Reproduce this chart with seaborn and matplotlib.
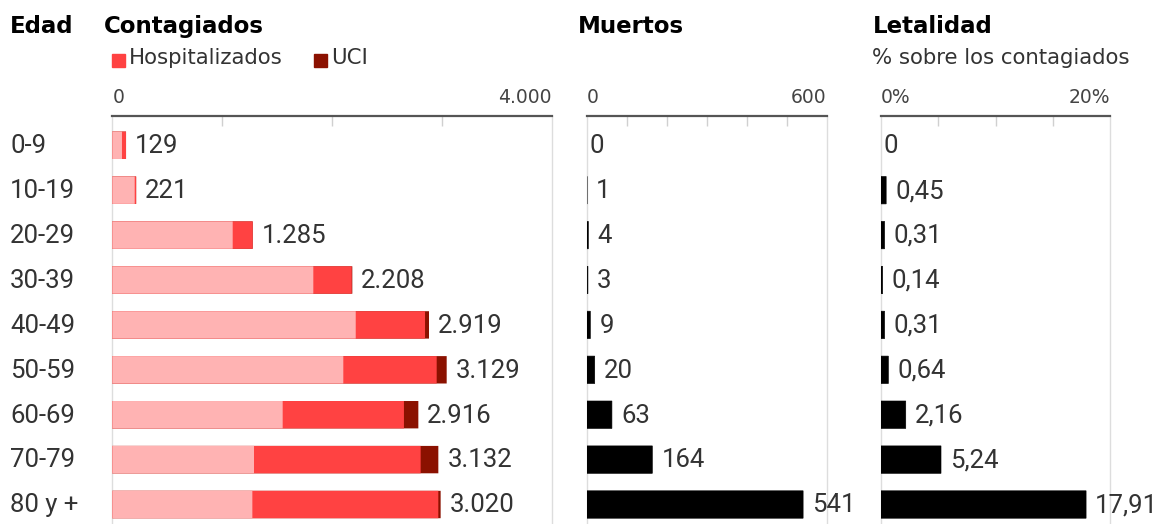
import matplotlib
matplotlib.use("Agg")
import matplotlib.pyplot as plt
from matplotlib.patches import Rectangle
from matplotlib.ticker import FixedLocator
import seaborn as sns
import pandas as pd

# ---------------- data ----------------
edad = ['0-9', '10-19', '20-29', '30-39', '40-49', '50-59', '60-69', '70-79', '80 y +']
no_hosp = [88, 204, 1096, 1830, 2216, 2103, 1551, 1290, 1275]     # light pink segment
hospitalizados = [37, 13, 182, 350, 631, 850, 1104, 1517, 1693]   # red segment
uci = [0, 0, 0, 5, 36, 91, 131, 161, 21]                           # dark red segment
contagiados_total = [129, 221, 1285, 2208, 2919, 3129, 2916, 3132, 3020]
muertos = [0, 1, 4, 3, 9, 20, 63, 164, 541]
letalidad = [0, 0.45, 0.31, 0.14, 0.31, 0.64, 2.16, 5.24, 17.91]

c_ticks = [0, 4000]
c_ticklabels = ['0', '4.000']
m_ticks = [0, 600]
m_ticklabels = ['0', '600']
l_ticks = [0, 20]
l_ticklabels = ['0%', '20%']

# ---------------- style ----------------
sns.set_theme(style="white")
plt.rcParams['font.family'] = ['DejaVu Sans']

PINK = '#ffb3b3'
RED = '#ff4242'
DARK = '#8b1100'
TXT = '#333333'
NUM_FONT = ['Roboto', 'DejaVu Sans']
NS = 18.5

W, H = 1160, 524
fig = plt.figure(figsize=(W / 100, H / 100), dpi=100)

def fx(px):
    return px / W

def fy(py):
    return 1 - py / H

top = fy(115.7)
ax1 = fig.add_axes([fx(112.3), 0, fx(439.4), top])
ax2 = fig.add_axes([fx(586.7), 0, fx(240), top])
ax3 = fig.add_axes([fx(881), 0, fx(229), top])

df = pd.DataFrame({
    'edad': edad,
    'no_hosp': no_hosp,
    'hosp': hospitalizados,
    'uci': uci,
    'total': contagiados_total,
    'muertos': muertos,
    'letalidad': letalidad,
})
df['s1'] = df['no_hosp']
df['s2'] = df['no_hosp'] + df['hosp']
df['s3'] = df['s2'] + df['uci']

BW = 0.61
common = dict(y='edad', orient='h', width=BW, saturation=1, linewidth=0, snap=False)
# stacked: draw cumulative sums from the largest to the smallest
sns.barplot(data=df, x='s3', color=DARK, ax=ax1, **common)
sns.barplot(data=df, x='s2', color=RED, ax=ax1, **common)
sns.barplot(data=df, x='s1', color=PINK, ax=ax1, **common)
sns.barplot(data=df, x='muertos', color='black', ax=ax2, **common)
sns.barplot(data=df, x='letalidad', color='black', ax=ax3, **common)

# make hairline-thin (non-zero) black bars visible, as in the original
for ax in (ax2, ax3):
    for p in ax.patches:
        if p.get_width() > 0:
            p.set_edgecolor('black')
            p.set_linewidth(0.45)
            p.set_zorder(3)

specs = [
    (ax1, (0, 4000), c_ticks, c_ticklabels, [1000, 2000, 3000]),
    (ax2, (0, 600), m_ticks, m_ticklabels, [100, 200, 300, 400, 500]),
    (ax3, (0, 20), l_ticks, l_ticklabels, [5, 10, 15]),
]
for ax, xlim, ticks, labels, minor in specs:
    ax.set_xlim(*xlim)
    ax.set_ylim(8.434, -0.659)
    ax.set_xlabel('')
    ax.set_ylabel('')
    ax.set_yticks([])
    ax.xaxis.tick_top()
    ax.set_xticks(ticks)
    ax.set_xticklabels(labels)
    ax.xaxis.set_minor_locator(FixedLocator(minor))
    ax.tick_params(axis='x', which='major', length=0, pad=6.5, labelsize=13.5,
                   labelcolor='#444444')
    ax.tick_params(axis='x', which='minor', direction='in', length=7, width=1,
                   color='#d0d0d0', top=True, bottom=False)
    tl = ax.get_xticklabels()
    tl[0].set_ha('left')
    tl[-1].set_ha('right')
    for side in ['left', 'right']:
        ax.spines[side].set_visible(True)
        ax.spines[side].set_color('#dddddd')
        ax.spines[side].set_linewidth(1)
        ax.spines[side].set_zorder(0.5)
    ax.spines['bottom'].set_visible(False)
    ax.spines['top'].set_visible(True)
    ax.spines['top'].set_color('#555555')
    ax.spines['top'].set_linewidth(1.6)
    ax.patch.set_alpha(0)

# value labels
def label(ax, xs, texts):
    for i, (x, t) in enumerate(zip(xs, texts)):
        off = 6.5 if x > 0 else 2.0
        ax.annotate(t, xy=(x, i), xytext=(off, 1.2), textcoords='offset points',
                    ha='left', va='center_baseline', fontsize=NS,
                    color=TXT, family=NUM_FONT, annotation_clip=False)

def fmt_thousands(v):
    return f"{v:,}".replace(',', '.')

label(ax1, df['s3'], [fmt_thousands(v) for v in contagiados_total])
label(ax2, muertos, [str(v) for v in muertos])
label(ax3, letalidad, ['0' if v == 0 else f"{v:.2f}".replace('.', ',') for v in letalidad])

# row labels
for i, e in enumerate(edad):
    ax1.annotate(e, xy=(fx(10), i), xycoords=('figure fraction', 'data'),
                 xytext=(0, 1.2), textcoords='offset points',
                 ha='left', va='center_baseline', fontsize=NS, color=TXT,
                 family=NUM_FONT, annotation_clip=False)

# titles
TS = 16.5
fig.text(fx(9.5), fy(33), 'Edad', fontsize=TS, fontweight='bold', color='black', va='baseline')
fig.text(fx(104), fy(33), 'Contagiados', fontsize=TS, fontweight='bold', color='black', va='baseline')
fig.text(fx(578), fy(33), 'Muertos', fontsize=TS, fontweight='bold', color='black', va='baseline')
fig.text(fx(873), fy(33), 'Letalidad', fontsize=TS, fontweight='bold', color='black', va='baseline')

# legend / subtitle
SS = 15.3
fig.patches.append(Rectangle((fx(112), fy(66.5)), fx(13), 12 / H, transform=fig.transFigure,
                             color=RED, zorder=5))
fig.text(fx(129), fy(64.3), 'Hospitalizados', fontsize=SS, color=TXT, va='baseline')
fig.patches.append(Rectangle((fx(314), fy(66.5)), fx(13), 12 / H, transform=fig.transFigure,
                             color=DARK, zorder=5))
fig.text(fx(331), fy(64.3), 'UCI', fontsize=SS, color=TXT, va='baseline')
fig.text(fx(872), fy(64.3), '% sobre los contagiados', fontsize=SS, color=TXT, va='baseline')

fig.savefig('out.png', dpi=100)
